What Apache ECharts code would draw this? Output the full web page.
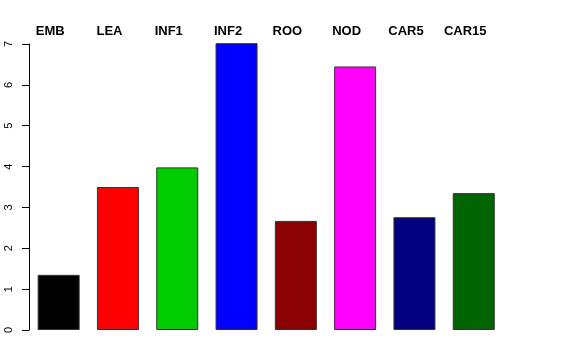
<!DOCTYPE html>
<html>
<head>
<meta charset="utf-8">
<script src="https://cdn.jsdelivr.net/npm/echarts@6/dist/echarts.min.js"></script>
<style>html,body{margin:0;padding:0;background:#fff;}#c{width:576px;height:360px;}</style>
</head>
<body>
<div id="c"></div>
<script>
const categories = ['EMB', 'LEA', 'INF1', 'INF2', 'ROO', 'NOD', 'CAR5', 'CAR15'];
const values = [1.35, 3.50, 3.98, 7.02, 2.67, 6.45, 2.76, 3.35];
const barColors = ['#000000', '#FF0000', '#00CD00', '#0000FF', '#8B0000', '#FF00FF', '#000080', '#006400'];
const yTicks = [0, 1, 2, 3, 4, 5, 6, 7];

const chart = echarts.init(document.getElementById('c'), null, {renderer: 'canvas'});
chart.setOption({
  animation: false,
  backgroundColor: '#ffffff',
  textStyle: {fontFamily: 'Liberation Sans, Arial, sans-serif'},
  grid: {left: 29, right: 72.6, top: 44, bottom: 30, containLabel: false},
  xAxis: [
    {type: 'category', data: categories, position: 'bottom',
     axisLine: {show: false}, axisTick: {show: false}, axisLabel: {show: false}, splitLine: {show: false}},
    {type: 'category', data: categories, position: 'top',
     axisLine: {show: false}, axisTick: {show: false}, splitLine: {show: false},
     axisLabel: {show: true, color: '#000', fontWeight: 'bold', fontSize: 13, margin: 6,
                 padding: [0, 17, 0, 0], interval: 0}}
  ],
  yAxis: {
    type: 'value', min: yTicks[0], max: yTicks[yTicks.length - 1], interval: 1,
    axisLine: {show: true, lineStyle: {color: '#000', width: 1}},
    axisTick: {show: true, length: 7, lineStyle: {color: '#000', width: 1}},
    splitLine: {show: false},
    axisLabel: {color: '#000', fontSize: 11, rotate: 90, margin: 15}
  },
  series: [{
    type: 'bar',
    xAxisIndex: 0,
    data: values.map((v, i) => ({value: v, itemStyle: {color: barColors[i]}})),
    barWidth: 42,
    clip: false,
    itemStyle: {borderColor: '#333', borderWidth: 1}
  }]
});
</script>
</body>
</html>
